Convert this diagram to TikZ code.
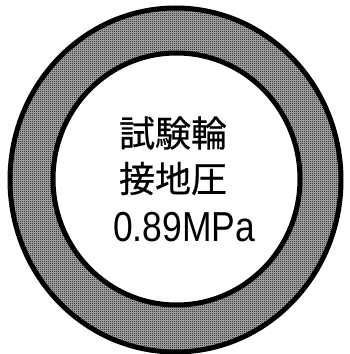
\documentclass[tikz,border=0pt]{standalone}
\usepackage{fontspec}
\setmainfont{Liberation Sans}
\newfontfamily\cjk[BoldFont={Noto Sans CJK JP}, BoldFeatures={FakeBold=0.6}]{Noto Sans CJK JP}
\usetikzlibrary{patterns}
\pgfdeclarepatternformonly{checker}{\pgfpointorigin}{\pgfpoint{2pt}{2pt}}{\pgfpoint{2pt}{2pt}}{%
  \pgfpathrectangle{\pgfpointorigin}{\pgfpoint{1pt}{1pt}}%
  \pgfpathrectangle{\pgfpoint{1pt}{1pt}}{\pgfpoint{1pt}{1pt}}%
  \pgfusepath{fill}}
\tikzset{
  ringline/.style={line width=5pt, draw=black},
  label/.style={inner sep=0pt, anchor=base, text=black}
}
\begin{document}
\begin{tikzpicture}[x=1pt,y=1pt]
\useasboundingbox (0,0) rectangle (350,354);
\fill[white] (0,0) rectangle (350,354);
\fill[black!30, even odd rule]
  (175.5,174) ellipse [x radius=165.5, y radius=172]
  (176.5,175) ellipse [x radius=123.5, y radius=126];
\fill[pattern=checker, pattern color=black, even odd rule]
  (175.5,174) ellipse [x radius=165.5, y radius=172]
  (176.5,175) ellipse [x radius=123.5, y radius=126];
\draw[ringline] (175.5,174) ellipse [x radius=165.5, y radius=172];
\draw[ringline] (176.5,175) ellipse [x radius=123.5, y radius=126];
\node[label] (l1) at (173,207.3) {\cjk\bfseries\fontsize{36}{36}\selectfont 試験輪};
\node[label] (l2) at (173,161.8) {\cjk\bfseries\fontsize{36}{36}\selectfont 接地圧};
\node[label] (l3) at (184,112.3) {\scalebox{0.846}[1]{\fontsize{41.9}{42}\selectfont 0.89MPa}};
\end{tikzpicture}
\end{document}
